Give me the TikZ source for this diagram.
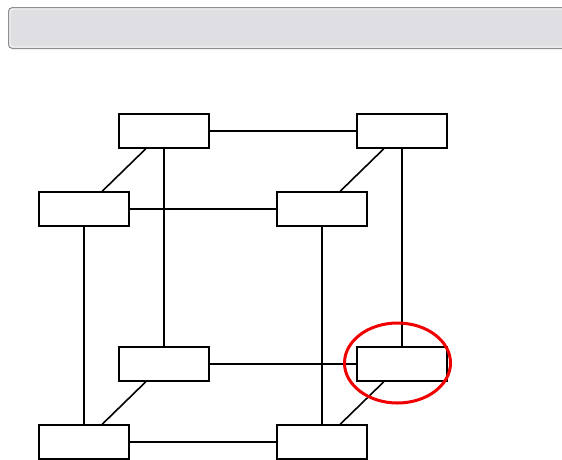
\documentclass[tikz,border=0pt]{standalone}
\usetikzlibrary{shapes.geometric}
\definecolor{barfill}{HTML}{DFDEE3}
\definecolor{barborder}{HTML}{8E8E8E}
\definecolor{hl}{HTML}{F00000}
\begin{document}
\begin{tikzpicture}[x=1pt,y=-1pt,
  cubebox/.style={draw=black,line width=1.6pt,fill=white,minimum width=90pt,minimum height=34pt,inner sep=0pt},
  edge/.style={draw=black,line width=1.6pt}]
\useasboundingbox (0,0) rectangle (562,459);
\begin{scope}
\clip (0,0) rectangle (562,459);
\draw[barborder,fill=barfill,line width=1pt,rounded corners=4pt] (8.5,7.5) rectangle (580,48.5);
\draw[white!90!barfill,line width=0.8pt,rounded corners=3pt] (10,9) rectangle (578,47);
% back layer
\node[cubebox] (btl) at (164,131) {};
\node[cubebox] (btr) at (402,131) {};
\node[cubebox] (bbl) at (164,364) {};
\node[cubebox] (bbr) at (402,364) {};
% front layer
\node[cubebox] (ftl) at (84,209) {};
\node[cubebox] (ftr) at (322,209) {};
\node[cubebox] (fbl) at (84,442) {};
\node[cubebox] (fbr) at (322,442) {};
% edges
\path[edge] (btl) -- (btr);
\path[edge] (btl) -- (bbl);
\path[edge] (btr) -- (bbr);
\path[edge] (bbl) -- (bbr);
\path[edge] (ftl) -- (ftr);
\path[edge] (ftl) -- (fbl);
\path[edge] (ftr) -- (fbr);
\path[edge] (fbl) -- (fbr);
\path[edge] (btl) -- (ftl);
\path[edge] (btr) -- (ftr);
\path[edge] (bbl) -- (fbl);
\path[edge] (bbr) -- (fbr);
% highlight
\node[ellipse,draw=hl,line width=3pt,minimum width=106pt,minimum height=80pt,inner sep=0pt] (hlt) at (397.5,363) {};
\end{scope}
\end{tikzpicture}
\end{document}
